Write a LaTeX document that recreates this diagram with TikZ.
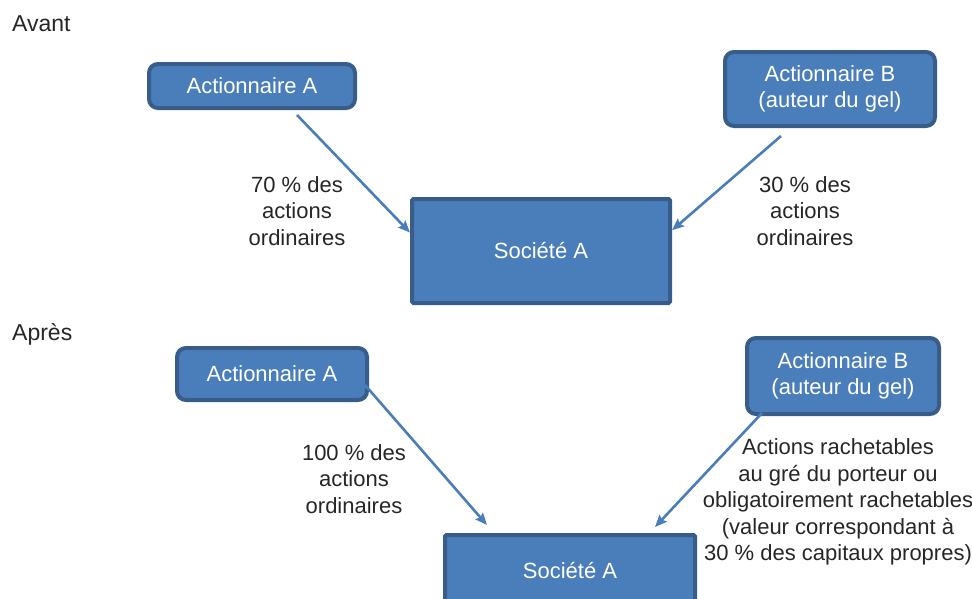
\documentclass[tikz,border=0pt]{standalone}
\usepackage{fontspec}
\setmainfont{Liberation Sans}
\usepackage{tikz}
\usetikzlibrary{arrows.meta}
\usepackage{xcolor}
\definecolor{boxfill}{HTML}{4A7EBB}
\definecolor{boxline}{HTML}{385D8A}
\definecolor{txt}{HTML}{262626}

\begin{document}
\begin{tikzpicture}[x=1pt,y=-1pt,>={Stealth[length=12pt,width=10pt,inset=2pt]},
  font=\fontsize{22}{26.5}\selectfont,
  holder/.style={draw=boxline,fill=boxfill,line width=4pt,rounded corners=9pt,text=white,align=center,inner sep=0pt},
  firm/.style={draw=boxline,fill=boxfill,line width=4pt,rounded corners=1.5pt,text=white,align=center,inner sep=0pt},
  share/.style={boxfill,line width=2.6pt,->},
  lbl/.style={text=txt,align=center,inner sep=0pt}]
\useasboundingbox (0,0) rectangle (972,598);
\clip (0,0) rectangle (972,598);
% avant
\node[lbl,anchor=west,font=\fontsize{23}{26.5}\selectfont] (avant) at (12,24) {Avant};
\node[holder,minimum width=206,minimum height=44] (actA1) at (252,86) {Actionnaire A};
\node[holder,minimum width=210,minimum height=74] (actB1) at (830,89) {Actionnaire B\\(auteur du gel)};
\node[firm,minimum width=258,minimum height=104] (soc1) at (541,251) {Soci\'et\'e A};
\coordinate (a1s) at (297,115);
\coordinate (b1s) at (781,136);
\draw[share] (a1s) -- (soc1.172);
\draw[share] (b1s) -- (soc1.9.5);
\node[lbl] (pctA1) at (297,211) {70 \% des\\actions\\ordinaires};
\node[lbl] (pctB1) at (805,211) {30 \% des\\actions\\ordinaires};
% apres
\node[lbl,anchor=west,font=\fontsize{23}{26.5}\selectfont] (apres) at (12,334) {Apr\`es};
\node[holder,minimum width=190,minimum height=52] (actA2) at (272,374) {Actionnaire A};
\node[holder,minimum width=192,minimum height=76] (actB2) at (843,376) {Actionnaire B\\(auteur du gel)};
\node[firm,minimum width=250,minimum height=70] (soc2) at (570,570) {Soci\'et\'e A};
\coordinate (a2s) at (365,385);
\coordinate (b2s) at (762,413);
\coordinate (a2e) at (487,525);
\coordinate (b2e) at (655,527);
\draw[share] (a2s) -- (a2e);
\draw[share] (b2s) -- (b2e);
\node[lbl] (pctA2) at (354,479) {100 \% des\\actions\\ordinaires};
\node[lbl] (pctB2) at (838,502) {Actions rachetables\\au gr\'e du porteur ou\\obligatoirement rachetables\\(valeur correspondant \`a\\30 \% des capitaux propres)};
\end{tikzpicture}
\end{document}
